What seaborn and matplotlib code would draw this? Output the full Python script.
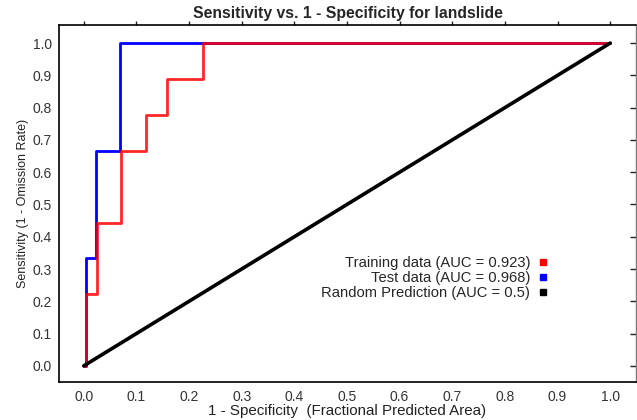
import matplotlib
matplotlib.use("Agg")
import matplotlib.pyplot as plt
import seaborn as sns
import pandas as pd
from matplotlib.lines import Line2D

# ROC points (1 - specificity, sensitivity)
train_fpr = [0.0, 0.004, 0.025, 0.070, 0.118, 0.159, 0.227, 1.0]
train_tpr = [0.0, 0.222, 0.444, 0.667, 0.778, 0.889, 1.0, 1.0]
test_fpr = [0.0, 0.004, 0.024, 0.068, 1.0]
test_tpr = [0.0, 0.333, 0.667, 1.0, 1.0]
random_fpr = [0.0, 1.0]
random_tpr = [0.0, 1.0]

series_labels = ['Training data (AUC = 0.923)',
                 'Test data (AUC = 0.968)',
                 'Random Prediction (AUC = 0.5)']
series_colors = ['#ff0000', '#0000ff', '#000000']
tick_values = [0.0, 0.1, 0.2, 0.3, 0.4, 0.5, 0.6, 0.7, 0.8, 0.9, 1.0]

sns.set_style("white")
plt.rcParams['font.family'] = ['Liberation Sans', 'DejaVu Sans']

fig = plt.figure(figsize=(6.37, 4.2), dpi=100)
ax = fig.add_axes([59 / 637, 38 / 420, 577 / 637, 357 / 420])

train = pd.DataFrame({'fpr': train_fpr, 'tpr': train_tpr})
test = pd.DataFrame({'fpr': test_fpr, 'tpr': test_tpr})
rand = pd.DataFrame({'fpr': random_fpr, 'tpr': random_tpr})

sns.lineplot(data=test, x='fpr', y='tpr', sort=False, drawstyle='steps-post',
             color=series_colors[1], linewidth=2.0, ax=ax)
sns.lineplot(data=train, x='fpr', y='tpr', sort=False, drawstyle='steps-post',
             color=series_colors[0], linewidth=2.0, alpha=0.85, ax=ax)
sns.lineplot(data=rand, x='fpr', y='tpr', sort=False,
             color=series_colors[2], linewidth=2.6, ax=ax)

ax.set_xlim(-0.047, 1.049)
ax.set_ylim(-0.05, 1.056)
ax.set_xticks(tick_values)
ax.set_yticks(tick_values)
ax.set_xticklabels([f'{v:.1f}' for v in tick_values])
ax.set_yticklabels([f'{v:.1f}' for v in tick_values])
ax.tick_params(axis='both', direction='in', length=4, width=1,
               labelsize=10, labelcolor='#333333', color='#222222')
ax.tick_params(axis='y', right=True, pad=5)
ax.tick_params(axis='x', pad=6)

top = ax.secondary_xaxis('top')
top.set_xticks(tick_values)
top.tick_params(direction='out', length=3, width=1, labeltop=False, color='#222222')
top.spines['top'].set_visible(False)

for side in ['left', 'bottom', 'top']:
    ax.spines[side].set_color('black')
    ax.spines[side].set_linewidth(1.2)
ax.spines['right'].set_color('#777777')
ax.spines['right'].set_linewidth(1.0)

ax.set_title('Sensitivity vs. 1 - Specificity for landslide',
             fontsize=11.3, fontweight='bold', pad=5)
ax.set_xlabel('1 - Specificity  (Fractional Predicted Area)',
              fontsize=10.9, color='#222222', labelpad=0)
ax.set_ylabel('Sensitivity (1 - Omission Rate)', fontsize=9, color='#222222',
              family=['Liberation Sans Narrow', 'Liberation Sans'], labelpad=3)

handles = [Line2D([], [], linestyle='none', marker='s', markersize=4.5,
                  color=c) for c in series_colors]
ax.legend(handles, series_labels, loc='upper right',
          bbox_to_anchor=(0.860, 0.374), frameon=False, markerfirst=False,
          fontsize=10.6, handlelength=0.6, handletextpad=0.6,
          labelspacing=0.08, borderpad=0)

fig.savefig('out.png', dpi=100)
